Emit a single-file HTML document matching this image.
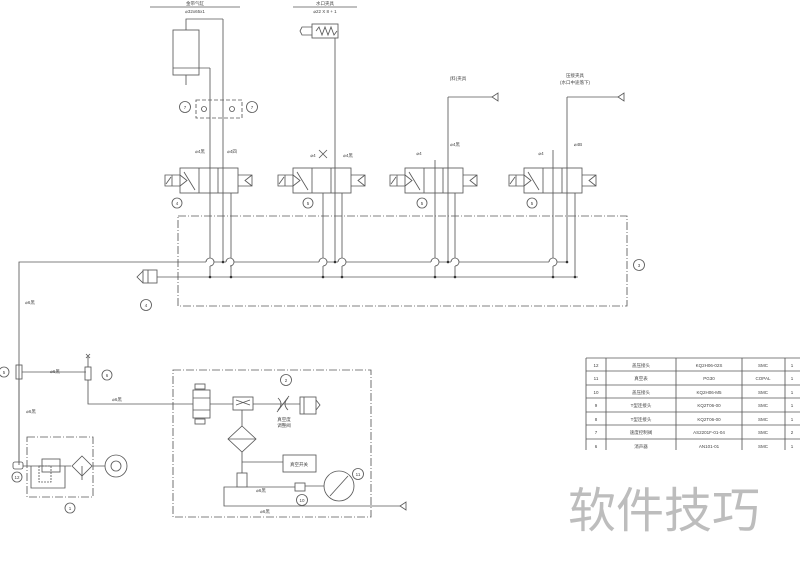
<!DOCTYPE html>
<html><head><meta charset="utf-8"><style>
html,body{margin:0;padding:0;background:#fff;}
svg{display:block;font-family:"Liberation Sans","Noto Sans CJK SC",sans-serif;}
</style></head><body>
<svg width="800" height="566" viewBox="0 0 800 566" xmlns="http://www.w3.org/2000/svg">
<g stroke="#5a5a5a" stroke-width="0.85" fill="none">
<rect x="178" y="216" width="449" height="90" stroke-dasharray="8,2,1,2"/>
<path d="M19,465 V262 H206 M214,262 H226 M234,262 H319 M327,262 H338 M346,262 H431 M439,262 H451 M459,262 H549 M557,262 H567"/>
<path d="M157,277 H578"/>
<path d="M206,262 a4,4 0 0 1 4,-4 M210,258 a4,4 0 0 1 0,8 M226,262 a4,4 0 0 1 4,-4 M230,258 a4,4 0 0 1 0,8"/>
<path d="M319,262 a4,4 0 0 1 4,-4 M323,258 a4,4 0 0 1 0,8 M338,262 a4,4 0 0 1 4,-4 M342,258 a4,4 0 0 1 0,8"/>
<path d="M431,262 a4,4 0 0 1 4,-4 M435,258 a4,4 0 0 1 0,8 M451,262 a4,4 0 0 1 4,-4 M455,258 a4,4 0 0 1 0,8"/>
<path d="M549,262 a4,4 0 0 1 4,-4 M553,258 a4,4 0 0 1 0,8"/>
<path d="M210,68 V258 M210,266 V277 M223,19 V262 M231,193 V258 M231,266 V277"/>
<path d="M323,193 V258 M323,266 V277 M335,38 V262 M342,193 V258 M342,266 V277"/>
<path d="M435,160 V258 M435,266 V277 M448,97 V262 M455,193 V258 M455,266 V277"/>
<path d="M553,150 V258 M553,266 V277 M567,97 V262 M575,193 V277"/>
<path d="M448,97 H492 M567,97 H618"/>
<path d="M492,97 l6,-4 v8 z M618,97 l6,-4 v8 z"/>
<rect x="173" y="30" width="26" height="45"/><path d="M173,68 H199 M186,75 V85 M186,30 V19 H223 M199,68 H210"/>
<path d="M150,7 H240 M293,7 H357"/>
<rect x="312" y="24" width="26" height="14"/><path d="M312,27 H302 L300,31 L302,35 H312 M316,31 l3,-4 3,8 3,-8 3,8 3,-8 3,8 3,-4"/>
<rect x="196" y="100" width="46" height="18" stroke-dasharray="4,2"/>
<circle cx="204" cy="109" r="2.5"/><circle cx="232" cy="109" r="2.5"/>
<circle cx="185" cy="107" r="5.5"/><circle cx="252" cy="107" r="5.5"/>
<g id="v">
<rect x="180" y="168" width="58" height="25"/><path d="M199,168 V193 M218,168 V193 M180,175 H172 V186 H180 M172,175 L165,175 165,186 172,186 M166,184 L171,177 M180,175 l7,5.5 -7,5.5 M238,175 H252 V186 H238 M252,175 l-7,5.5 7,5.5 M184,172 L195,190"/>
</g>
<use href="#v" x="113"/><use href="#v" x="225"/><use href="#v" x="344"/>
<circle cx="177" cy="203" r="5"/><circle cx="308" cy="203" r="5"/><circle cx="422" cy="203" r="5"/><circle cx="532" cy="203" r="5"/>
<path d="M319,150 l8,8 M327,150 l-8,8"/>
<rect x="143" y="270" width="14" height="13"/><path d="M143,271 l-6,6 6,6 M148,270 v13"/>
<circle cx="146" cy="305" r="5.5"/><circle cx="639" cy="265" r="5.5"/>
<rect x="16" y="365" width="6" height="14"/><path d="M22,372 H86"/>
<rect x="85" y="367" width="6" height="13"/><path d="M88,367 V357 M86,354 l4,4 M90,354 l-4,4 M88,380 V404 H193"/>
<circle cx="4" cy="372" r="5"/><circle cx="107" cy="375" r="5"/>
<path d="M19,379 V463"/>
<rect x="27" y="437" width="66" height="60" stroke-dasharray="8,2,1,2"/>
<rect x="13" y="462" width="10" height="7" rx="2"/>
<path d="M23,466 H71 M93,466 H105"/>
<rect x="42" y="459" width="18" height="13"/><rect x="39" y="466" width="12" height="16" stroke-dasharray="2,1"/>
<path d="M31,466 V488 H65 V466"/>
<path d="M82,456 l10,10 -10,10 -10,-10 z M82,466 V480"/>
<circle cx="116" cy="466" r="11"/><circle cx="116" cy="466" r="5"/>
<circle cx="17" cy="477" r="5"/><circle cx="70" cy="508" r="5"/>
<rect x="173" y="370" width="198" height="147" stroke-dasharray="8,2,1,2"/>
<rect x="193" y="390" width="17" height="28"/><path d="M193,398 H210 M193,410 H210"/>
<rect x="195" y="384" width="10" height="5"/><rect x="195" y="419" width="10" height="5"/>
<path d="M210,404 H233 M253,404 H300"/>
<rect x="233" y="397" width="20" height="13"/><path d="M236,400 l14,5 M250,400 l-14,5"/>
<path d="M278,398 q6,6 0,12 M288,398 q-6,6 0,12 M277,412 l12,-16"/>
<rect x="300" y="397" width="16" height="17"/><path d="M304,397 v17 M316,400 l4,5 -4,5"/>
<circle cx="286" cy="380" r="5.5"/>
<path d="M242,410 V426 M242,426 l14,13 -14,13 -14,-13 z M228,439 H256 M242,452 V473 M242,462 H283"/>
<rect x="283" y="455" width="33" height="17"/>
<rect x="237" y="473" width="10" height="14"/>
<path d="M237,487 H224 V506 H400 M247,487 H295"/>
<path d="M400,506 l6,-4 v8 z"/>
<rect x="295" y="483" width="10" height="8"/><path d="M305,486 H324"/>
<circle cx="339" cy="486" r="15"/><path d="M330,496 L348,476"/>
<circle cx="358" cy="474" r="5.5"/><circle cx="302" cy="500" r="5.5"/>
<path d="M586,358 H800 M586,371 H800 M586,385 H800 M586,398 H800 M586,412 H800 M586,425 H800 M586,439 H800 M586,358 V450 M606,358 V450 M676,358 V450 M742,358 V450 M785,358 V450"/>
</g>
<g fill="#333">
<circle cx="223" cy="262" r="1.3"/><circle cx="210" cy="277" r="1.3"/><circle cx="231" cy="277" r="1.3"/>
<circle cx="335" cy="262" r="1.3"/><circle cx="323" cy="277" r="1.3"/><circle cx="342" cy="277" r="1.3"/>
<circle cx="448" cy="262" r="1.3"/><circle cx="435" cy="277" r="1.3"/><circle cx="455" cy="277" r="1.3"/>
<circle cx="567" cy="262" r="1.3"/><circle cx="553" cy="277" r="1.3"/><circle cx="575" cy="277" r="1.3"/>
</g>
<g fill="#444" font-size="4.5" text-anchor="middle">
<text x="195" y="5">金带气缸</text><text x="195" y="13">⌀32x65x1</text>
<text x="325" y="5">水口夹具</text><text x="325" y="13">⌀22 X 8 + 1</text>
<text x="458" y="80">(料)夹具</text>
<text x="575" y="77">压接夹具</text><text x="575" y="84">(水口中途落下)</text>
<text x="200" y="153">⌀4黑</text><text x="232" y="153">⌀4四</text>
<text x="313" y="157">⌀4</text><text x="348" y="157">⌀4黑</text>
<text x="419" y="155">⌀4</text><text x="455" y="146">⌀4黑</text>
<text x="541" y="155">⌀4</text><text x="578" y="146">⌀4B</text>
<text x="30" y="304">⌀6黑</text><text x="55" y="373">⌀6黑</text><text x="31" y="413">⌀6黑</text><text x="117" y="401">⌀6黑</text>
<text x="284" y="421">真空度</text><text x="284" y="427">调整阀</text>
<text x="299" y="466">真空开关</text>
<text x="261" y="492">⌀6黑</text><text x="265" y="513">⌀6黑</text>
<text x="177" y="205">4</text><text x="308" y="205">5</text><text x="422" y="205">5</text><text x="532" y="205">5</text>
<text x="185" y="109">7</text><text x="252" y="109">7</text><text x="146" y="307">4</text><text x="639" y="267">3</text>
<text x="4" y="374">5</text><text x="107" y="377">6</text><text x="17" y="479">12</text><text x="70" y="510">1</text>
<text x="286" y="382">2</text><text x="358" y="476">11</text><text x="302" y="502">10</text>
<text x="596" y="367">12</text><text x="641" y="367">盖压接头</text><text x="709" y="367">KQ2H06-02S</text><text x="763" y="367">SMC</text><text x="792" y="367">1</text>
<text x="596" y="380">11</text><text x="641" y="380">真空表</text><text x="709" y="380">PG30</text><text x="763" y="380">COPAL</text><text x="792" y="380">1</text>
<text x="596" y="394">10</text><text x="641" y="394">盖压接头</text><text x="709" y="394">KQ2H06-M5</text><text x="763" y="394">SMC</text><text x="792" y="394">1</text>
<text x="596" y="407">9</text><text x="641" y="407">T型连接头</text><text x="709" y="407">KQ2T06-00</text><text x="763" y="407">SMC</text><text x="792" y="407">1</text>
<text x="596" y="421">8</text><text x="641" y="421">T型连接头</text><text x="709" y="421">KQ2T06-00</text><text x="763" y="421">SMC</text><text x="792" y="421">1</text>
<text x="596" y="434">7</text><text x="641" y="434">速度控制阀</text><text x="709" y="434">AS2201F-01-04</text><text x="763" y="434">SMC</text><text x="792" y="434">2</text>
<text x="596" y="448">6</text><text x="641" y="448">消声器</text><text x="709" y="448">AN101-01</text><text x="763" y="448">SMC</text><text x="792" y="448">1</text>
</g>
<text x="568" y="527" font-size="48" fill="#bdbdbd" font-family="'Noto Sans CJK SC',sans-serif">软件技巧</text>
</svg>
</body></html>
